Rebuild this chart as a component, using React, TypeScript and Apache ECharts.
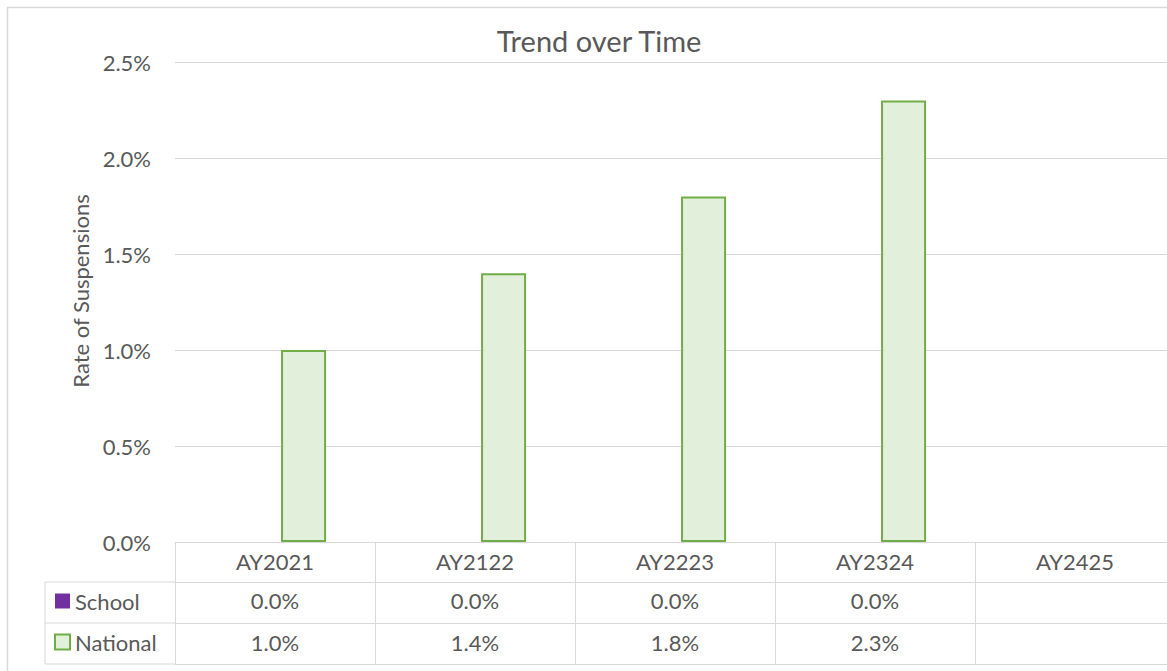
import React, { useEffect, useRef } from "react";
import * as echarts from "echarts";

const categories = ["AY2021", "AY2122", "AY2223", "AY2324", "AY2425"];
const schoolValues: (number | null)[] = [0.0, 0.0, 0.0, 0.0, null];
const nationalValues: (number | null)[] = [0.01, 0.014, 0.018, 0.023, null];
const yTicks = { min: 0, max: 0.025, interval: 0.005 };

const FONT = "Lato";
const TEXT = "#595959";
const LINE = "#d9d9d9";

const pct = (v: number | null) => (v === null || v === undefined ? "" : (v * 100).toFixed(1) + "%");

export default function App() {
  const ref = useRef<HTMLDivElement>(null);
  useEffect(() => {
    if (!ref.current) return;
    const chart = echarts.init(ref.current, undefined, { renderer: "svg" });
    const rowAxis = (offset: number, values: (number | null)[] | null, tickLen: number, showTicks: boolean, margin: number) => ({
      type: "category",
      position: "bottom",
      offset,
      data: categories,
      boundaryGap: true,
      axisLine: { show: true, lineStyle: { color: LINE, width: 1 } },
      axisTick: {
        show: showTicks,
        interval: 0,
        inside: false,
        length: tickLen,
        lineStyle: { color: LINE, width: 1 },
      },
      axisLabel: {
        show: true,
        interval: 0,
        margin,
        color: TEXT,
        fontFamily: FONT,
        fontSize: 22,
        formatter: (v: string, i: number) => (values === null ? v : pct(values[i])),
      },
      splitLine: { show: false },
    });
    const option: any = {
      animation: false,
      backgroundColor: "#ffffff",
      title: {
        text: "Trend over Time",
        left: 594,
        top: 21,
        textAlign: "center",
        textStyle: { color: TEXT, fontFamily: FONT, fontSize: 29, fontWeight: "normal" },
      },
      grid: { left: 175, width: 1000, top: 62, bottom: 129, containLabel: false, outerBoundsMode: "none" },
      legend: {
        orient: "vertical",
        left: 54,
        top: 590,
        padding: 0,
        itemWidth: 15,
        itemHeight: 15,
        itemGap: 19,
        icon: "rect",
        textStyle: { color: TEXT, fontFamily: FONT, fontSize: 22, lineHeight: 22 },
        data: ["School", "National"],
        selectedMode: false,
      },
      xAxis: [
        rowAxis(0, null, 40, true, 8),
        rowAxis(40, schoolValues, 41, true, 7),
        rowAxis(81, nationalValues, 41, true, 8),
        { ...rowAxis(122, [], 0, false, 8), axisLabel: { show: false } },
      ],
      yAxis: {
        type: "value",
        min: yTicks.min,
        max: yTicks.max,
        interval: yTicks.interval,
        name: "Rate of Suspensions",
        nameLocation: "middle",
        nameGap: 80,
        nameTextStyle: { color: TEXT, fontFamily: FONT, fontSize: 22, padding: [0, 0, 0, 22] },
        axisLine: { show: false },
        axisTick: { show: false },
        axisLabel: { color: TEXT, fontFamily: FONT, fontSize: 22, margin: 24, formatter: (v: number) => pct(v) },
        splitLine: { lineStyle: { color: LINE, width: 1 } },
      },
      series: [
        {
          name: "School",
          type: "bar",
          xAxisIndex: 0,
          data: schoolValues,
          barWidth: 45,
          barGap: "27%",
          itemStyle: { color: "#7030a0" },
        },
        {
          name: "National",
          type: "bar",
          xAxisIndex: 0,
          data: nationalValues,
          barWidth: 45,
          barGap: "27%",
          itemStyle: { color: "#e2efda", borderColor: "#70ad47", borderWidth: 2 },
        },
      ],
      graphic: [
        { type: "rect", shape: { x: 7.5, y: 7.5, width: 1200, height: 700 }, style: { fill: "none", stroke: LINE, lineWidth: 1.5 }, silent: true, z: -10 },
        { type: "line", shape: { x1: 45, y1: 582, x2: 175, y2: 582 }, style: { stroke: LINE, lineWidth: 1 } },
        { type: "line", shape: { x1: 45, y1: 623, x2: 175, y2: 623 }, style: { stroke: LINE, lineWidth: 1 } },
        { type: "line", shape: { x1: 45, y1: 664, x2: 175, y2: 664 }, style: { stroke: LINE, lineWidth: 1 } },
        { type: "line", shape: { x1: 45, y1: 582, x2: 45, y2: 664 }, style: { stroke: LINE, lineWidth: 1 } },
      ],
    };
    chart.setOption(option);
    return () => chart.dispose();
  }, []);
  return (
    <div
      ref={ref}
      style={{ position: "fixed", left: 0, top: 0, width: 1167, height: 671, background: "#fff" }}
    />
  );
}
